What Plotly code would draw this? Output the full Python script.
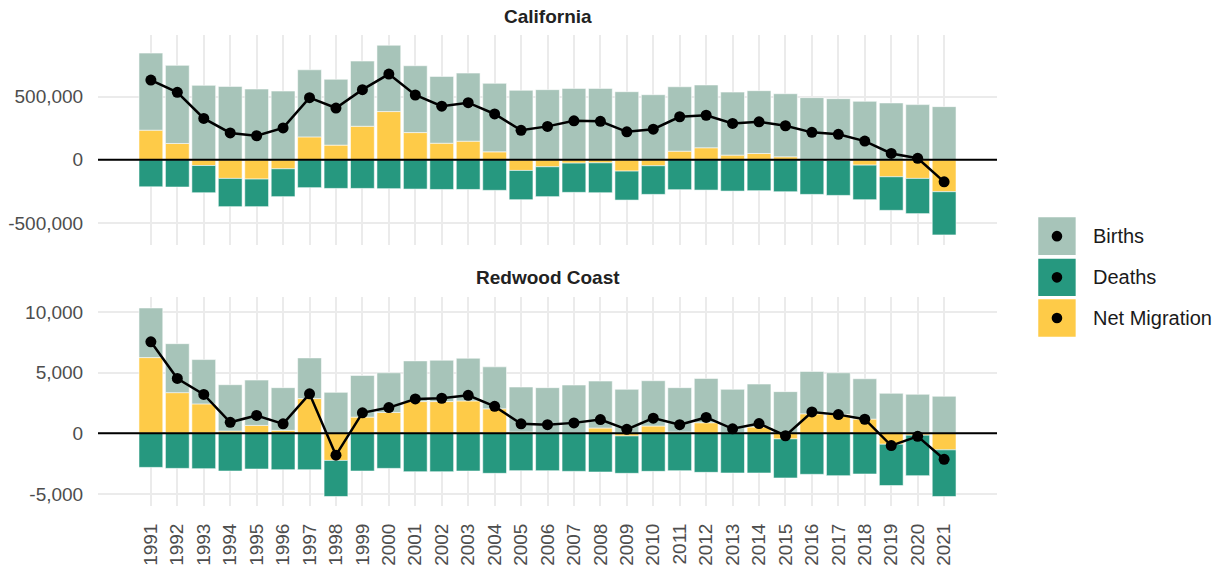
import plotly.graph_objects as go

years = list(range(1991, 2022))

ca_births = [609000, 617000, 588000, 580000, 559000, 543000, 530000, 520000, 515000, 524000,
             528000, 528000, 538000, 541000, 549000, 554000, 564000, 564000, 538000, 514000,
             509000, 496000, 498000, 496000, 498000, 491000, 483000, 462000, 449000, 436000, 420000]
ca_deaths = [-213000, -215000, -215000, -223000, -218000, -220000, -220000, -226000, -226000, -228000,
             -231000, -234000, -234000, -241000, -231000, -236000, -231000, -236000, -229000, -226000,
             -236000, -239000, -247000, -244000, -252000, -268000, -276000, -273000, -265000, -278000, -341000]
ca_migration = [234000, 129000, -45000, -147000, -152000, -71000, 181000, 116000, 265000, 381000,
                215000, 131000, 147000, 63000, -84000, -55000, -26000, -24000, -89000, -47000,
                68000, 95000, 37000, 50000, 24000, -5000, -5000, -42000, -134000, -147000, -252000]
ca_net = [630000, 533000, 327000, 212000, 190000, 252000, 491000, 409000, 554000, 677000,
          512000, 424000, 451000, 362000, 233000, 264000, 308000, 304000, 221000, 242000,
          340000, 352000, 287000, 300000, 269000, 217000, 201000, 148000, 50000, 12000, -174000]

rc_births = [4088, 4033, 3652, 3815, 3733, 3516, 3352, 3379, 3434, 3270,
             3352, 3406, 3515, 3460, 3706, 3711, 3929, 3870, 3624, 3733,
             3652, 3652, 3600, 3542, 3434, 3488, 3434, 3324, 3297, 3216, 3052]
rc_deaths = [-2807, -2889, -2916, -3107, -2943, -2998, -2998, -2970, -3107, -2889,
             -3161, -3161, -3107, -3297, -3079, -3079, -3134, -3188, -3079, -3134,
             -3079, -3216, -3270, -3270, -3216, -3379, -3488, -3352, -3407, -3338, -3842]
rc_migration = [6240, 3352, 2425, 191, 654, 245, 2861, -2235, 1335, 1717,
                2616, 2616, 2671, 2017, 109, 50, 50, 436, -218, 600,
                109, 872, 24, 518, -463, 1608, 1553, 1172, -899, -150, -1363]
rc_net = [7540, 4520, 3200, 910, 1470, 780, 3250, -1800, 1690, 2120,
          2830, 2890, 3130, 2220, 780, 710, 860, 1130, 327, 1250,
          710, 1308, 370, 800, -200, 1760, 1540, 1160, -1009, -250, -2140]

panel_titles = ["California", "Redwood Coast"]
legend_labels = ["Births", "Deaths", "Net Migration"]
ca_tickvals = [-500000, 0, 500000]
ca_ticktext = ["-500,000", "0", "500,000"]
rc_tickvals = [-5000, 0, 5000, 10000]
rc_ticktext = ["-5,000", "0", "5,000", "10,000"]

C_BIRTH = "#a7c4b9"
C_DEATH = "#26987f"
C_MIG = "#fecb48"
FONT = "Liberation Sans, Arial, sans-serif"

fig = go.Figure()

def add_panel(births, deaths, mig, net, xa, ya):
    outline = dict(color="rgba(255,255,255,0.55)", width=1)
    fig.add_trace(go.Bar(x=years, y=mig, marker=dict(color=C_MIG, line=outline),
                         xaxis=xa, yaxis=ya, showlegend=False, name="Net Migration"))
    fig.add_trace(go.Bar(x=years, y=births, marker=dict(color=C_BIRTH, line=outline),
                         xaxis=xa, yaxis=ya, showlegend=False, name="Births"))
    fig.add_trace(go.Bar(x=years, y=deaths, marker=dict(color=C_DEATH, line=outline),
                         xaxis=xa, yaxis=ya, showlegend=False, name="Deaths"))
    fig.add_trace(go.Scatter(x=years, y=net, mode="lines+markers",
                             line=dict(color="black", width=2.5),
                             marker=dict(color="black", size=11),
                             xaxis=xa, yaxis=ya, showlegend=False, name="Net Change"))

add_panel(ca_births, ca_deaths, ca_migration, ca_net, "x", "y")
add_panel(rc_births, rc_deaths, rc_migration, rc_net, "x2", "y2")

grid = "#ebebeb"
xcommon = dict(range=[1989.0, 2023.0], tickvals=years, showgrid=True, gridcolor=grid,
               gridwidth=1.5, zeroline=False, showline=False, automargin=False)
ycommon = dict(showgrid=True, gridcolor=grid, gridwidth=1.5, zeroline=False, showline=False,
               ticks="outside", ticklen=10, tickcolor="rgba(0,0,0,0)", automargin=False,
               tickfont=dict(family=FONT, size=19, color="#4d4d4d"))

fig.update_layout(
    width=1225, height=569,
    margin=dict(l=98, r=228, t=35, b=63, autoexpand=False),
    paper_bgcolor="white", plot_bgcolor="white",
    barmode="relative", bargap=0.1,
    font=dict(family=FONT),
    xaxis=dict(**xcommon, anchor="y", showticklabels=False, domain=[0, 1]),
    yaxis=dict(**ycommon, domain=[0.5541, 1.0], range=[-673000, 985800],
               tickvals=ca_tickvals, ticktext=ca_ticktext),
    xaxis2=dict(**xcommon, anchor="y2", showticklabels=True, tickangle=-90,
                ticks="outside", ticklen=9, tickcolor="rgba(0,0,0,0)",
                tickfont=dict(family=FONT, size=19, color="#4d4d4d")),
    yaxis2=dict(**ycommon, domain=[0.0, 0.4437], range=[-5990, 11231],
                tickvals=rc_tickvals, ticktext=rc_ticktext),
)

# zero lines above bars
for ya in ["y", "y2"]:
    xd = "x domain" if ya == "y" else "x2 domain"
    fig.add_shape(type="line", xref=xd, yref=ya, x0=0, x1=1, y0=0, y1=0,
                  line=dict(color="black", width=2), layer="above")

# panel titles
for title, yp in zip(panel_titles, [1.0389, 0.4856]):
    fig.add_annotation(text="<b>%s</b>" % title, xref="paper", yref="paper", x=0.5, y=yp,
                       showarrow=False, xanchor="center", yanchor="middle",
                       font=dict(family=FONT, size=19, color="#222222"))

# custom legend
leg_colors = [C_BIRTH, C_DEATH, C_MIG]
leg_boxes = [(0.5329, 0.6130), (0.4459, 0.5251), (0.3595, 0.4389)]
for label, col, (y0, y1) in zip(legend_labels, leg_colors, leg_boxes):
    fig.add_shape(type="rect", xref="paper", yref="paper", x0=1.0459, x1=1.0875, y0=y0, y1=y1,
                  fillcolor=col, line=dict(width=0))
    yc = (y0 + y1) / 2
    fig.add_shape(type="circle", xref="paper", yref="paper",
                  x0=1.0667 - 0.0059, x1=1.0667 + 0.0059, y0=yc - 0.0113, y1=yc + 0.0113,
                  fillcolor="black", line=dict(width=0))
    fig.add_annotation(text=label, xref="paper", yref="paper", x=1.1046, y=yc,
                       showarrow=False, xanchor="left", yanchor="middle",
                       font=dict(family=FONT, size=20, color="#1a1a1a"))

fig.write_html("out.html", config={"displayModeBar": False},
               post_script="document.body.style.margin='0px';document.body.style.overflow='hidden';")
